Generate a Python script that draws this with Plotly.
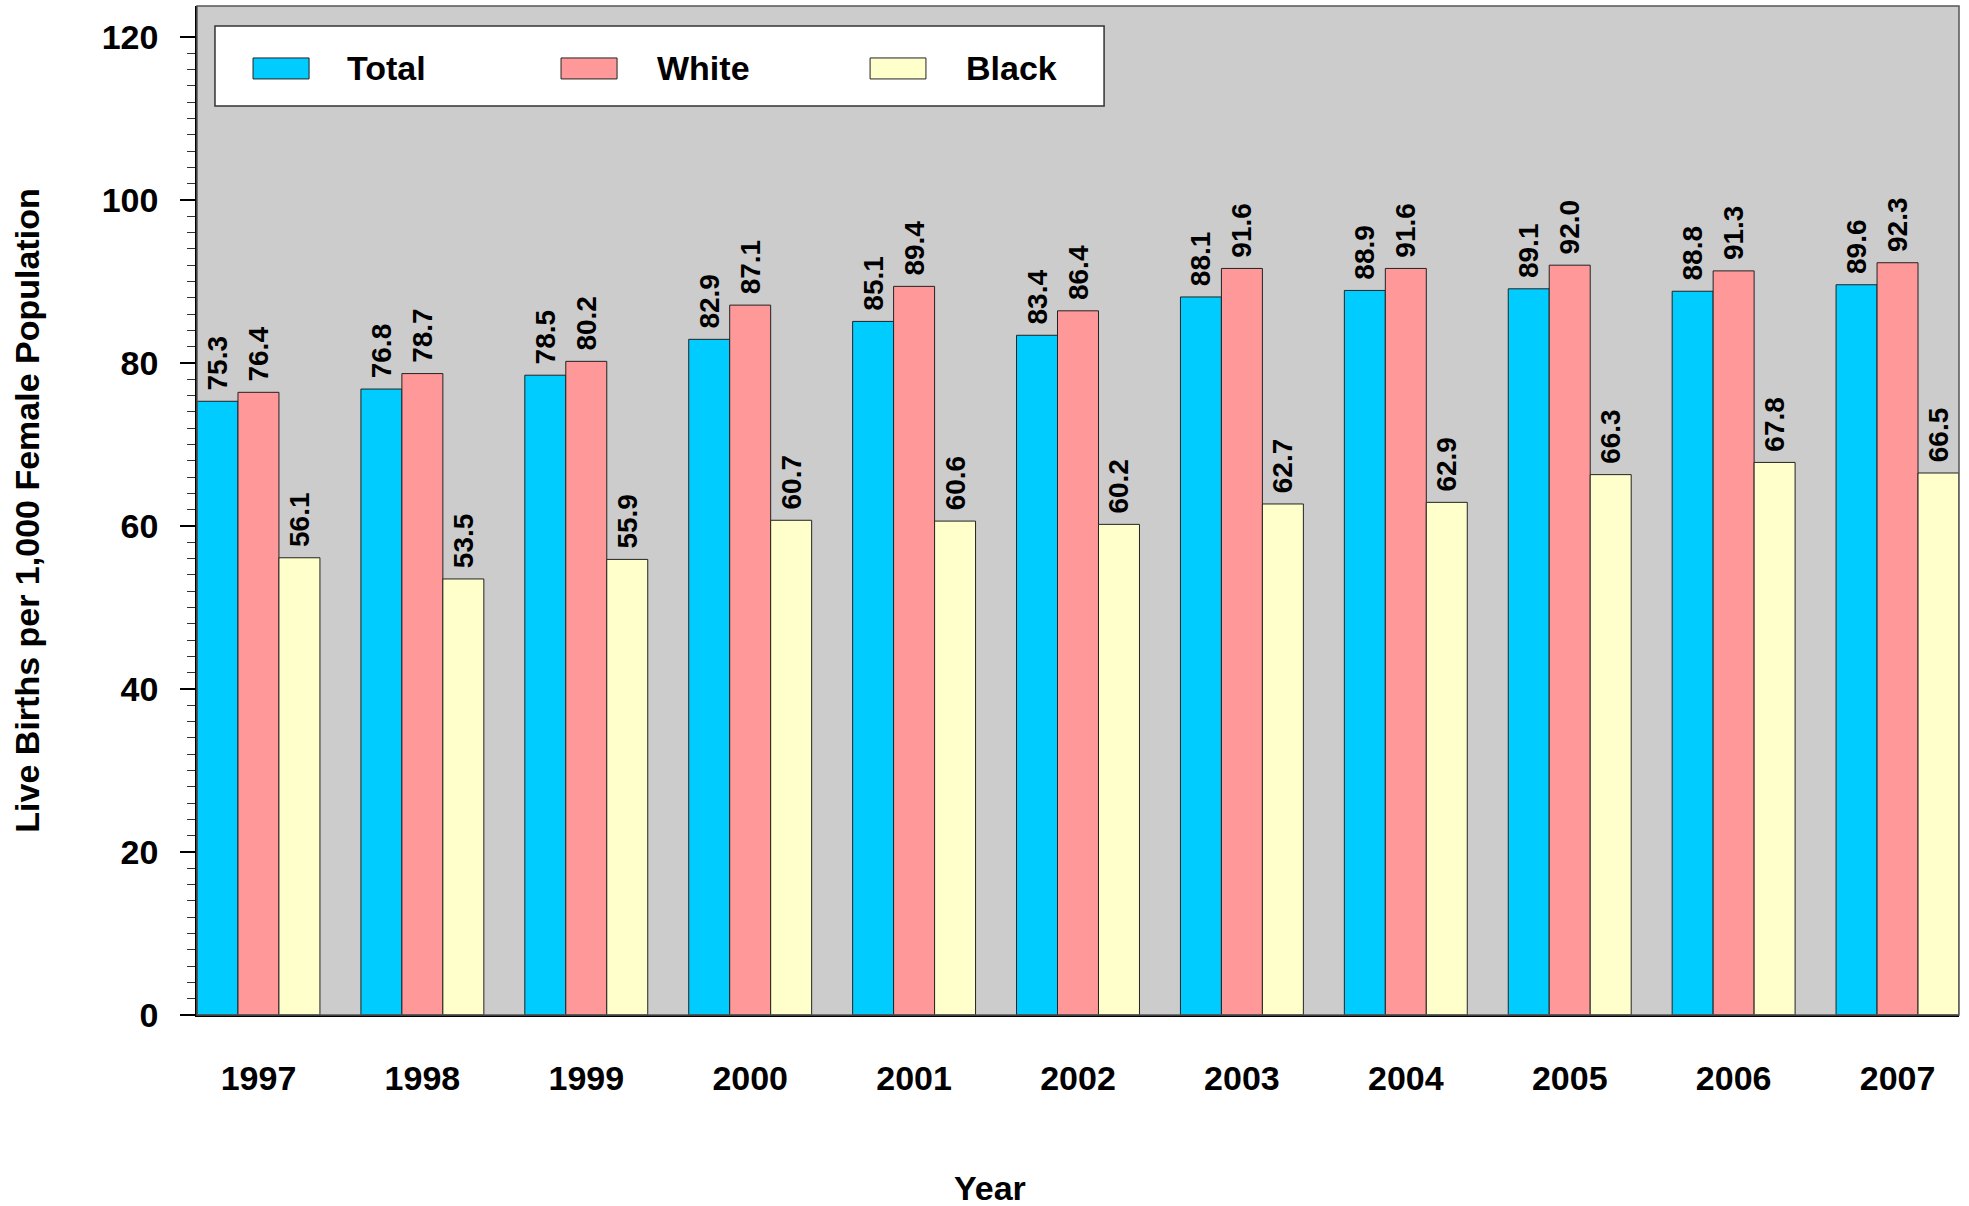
import plotly.graph_objects as go

years = ["1997", "1998", "1999", "2000", "2001", "2002", "2003", "2004", "2005", "2006", "2007"]
total = [75.3, 76.8, 78.5, 82.9, 85.1, 83.4, 88.1, 88.9, 89.1, 88.8, 89.6]
white = [76.4, 78.7, 80.2, 87.1, 89.4, 86.4, 91.6, 91.6, 92.0, 91.3, 92.3]
black = [56.1, 53.5, 55.9, 60.7, 60.6, 60.2, 62.7, 62.9, 66.3, 67.8, 66.5]

series_names = ["Total", "White", "Black"]
series_values = [total, white, black]
series_colors = ["#00CCFF", "#FF9999", "#FFFFCC"]

FONT = "Liberation Sans, Arial, sans-serif"

fig = go.Figure()
for name, vals, color in zip(series_names, series_values, series_colors):
    fig.add_trace(go.Bar(
        x=years, y=vals, name=name,
        marker=dict(color=color, line=dict(color="#222222", width=1)),
        texttemplate="\u00a0%{y:.1f}", textposition="outside", textangle=-90,
        textfont=dict(family=FONT, size=28, color="black", weight="bold"),
        constraintext="none", cliponaxis=False, showlegend=False,
    ))

# Hand-drawn legend box (layout positions in paper coordinates)
legend_swatch_x = [(0.0318, 0.0636), (0.2066, 0.2384), (0.3820, 0.4137)]
legend_text_x = [0.0840, 0.2599, 0.4353]
shapes = [
    dict(type="rect", xref="paper", yref="paper", x0=0.0102, x1=0.5148, y0=0.9009, y1=0.9802,
         fillcolor="white", line=dict(color="#333333", width=1.5), layer="above"),
]
annotations = []
for (x0, x1), tx, name, color in zip(legend_swatch_x, legend_text_x, series_names, series_colors):
    shapes.append(dict(type="rect", xref="paper", yref="paper", x0=x0, x1=x1, y0=0.9277, y1=0.9485,
                       fillcolor=color, line=dict(color="#222222", width=1), layer="above"))
    annotations.append(dict(text=name, xref="paper", yref="paper", x=tx, y=0.9385,
                            xanchor="left", yanchor="middle", showarrow=False,
                            font=dict(family=FONT, size=34, color="black", weight="bold")))

annotations.append(dict(text="Year", xref="paper", yref="paper", x=0.450, y=-0.1715,
                        xanchor="center", yanchor="middle", showarrow=False,
                        font=dict(family=FONT, size=34, color="black", weight="bold")))

shapes.append(dict(type="rect", xref="paper", yref="paper", x0=0, y0=0, x1=1, y1=1,
                   line=dict(color="#555555", width=1.5), layer="above"))

fig.update_layout(
    width=1969, height=1206,
    margin=dict(l=197, r=10, t=6, b=191),
    paper_bgcolor="white", plot_bgcolor="#CCCCCC",
    barmode="group", bargap=0.25, bargroupgap=0,
    font=dict(family=FONT, size=34, color="black", weight="bold"),
    showlegend=False,
    xaxis=dict(
        type="category", range=[-0.375, 10.375],
        showline=True, linecolor="black", linewidth=1.5,
        ticks="", showgrid=False, ticklabelstandoff=32,
        tickfont=dict(family=FONT, size=34, weight="bold"),
    ),
    yaxis=dict(
        range=[0, 123.8], tickmode="array", tickvals=[0, 20, 40, 60, 80, 100, 120],
        showline=True, linecolor="black", linewidth=1.5,
        ticks="outside", ticklen=15, tickwidth=1.5, tickcolor="black",
        showgrid=False, zeroline=False, ticklabelstandoff=15,
        tickfont=dict(family=FONT, size=34, weight="bold"),
        minor=dict(tickmode="array", tickvals=[v for v in range(2, 120, 2) if v % 20 != 0],
                   ticks="outside", ticklen=8, tickwidth=1, tickcolor="#333333", showgrid=False),
        title=dict(text="Live Births per 1,000 Female Population",
                   font=dict(family=FONT, size=34, weight="bold"), standoff=52),
    ),
    shapes=shapes,
    annotations=annotations,
)

fig.write_html("out.html", config={"displayModeBar": False},
               post_script="document.body.style.margin='0';")
